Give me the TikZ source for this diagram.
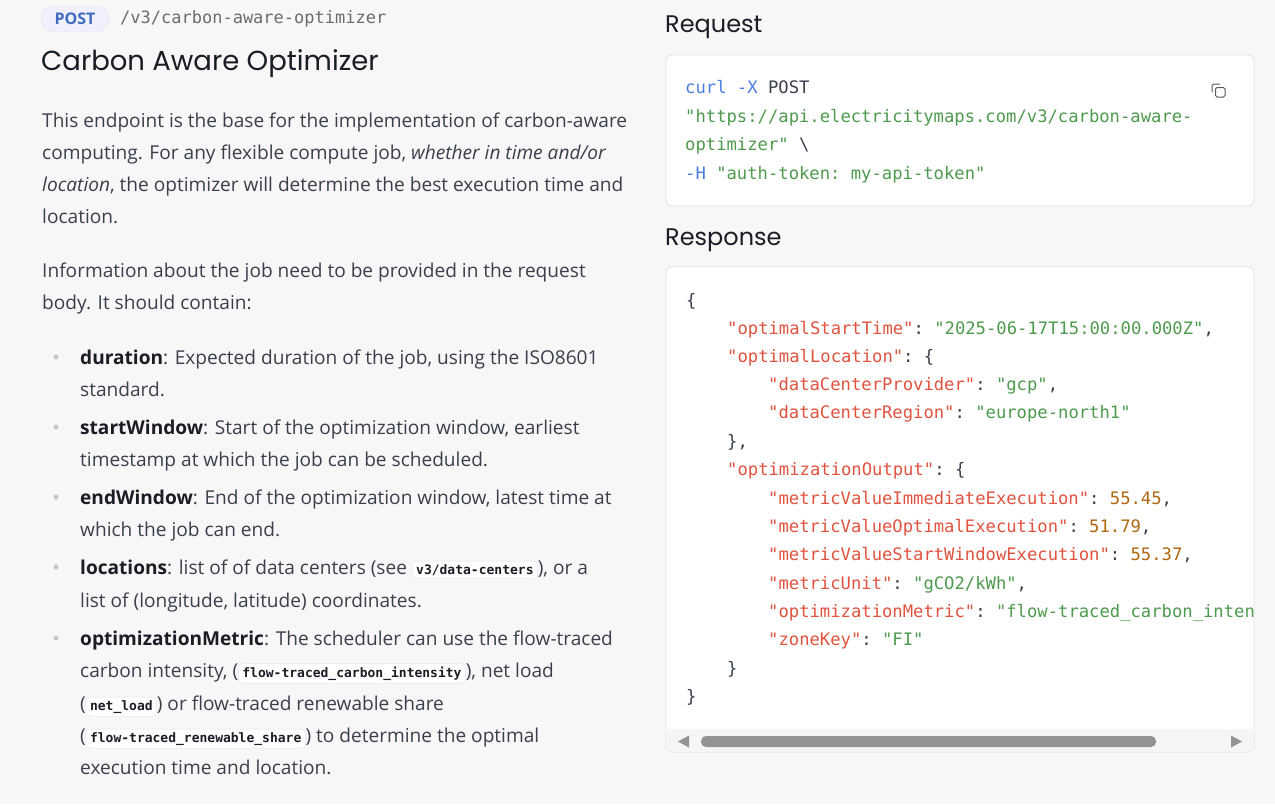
\documentclass[tikz,border=0pt]{standalone}
\usepackage{fontspec}
\setmainfont{Open Sans}
\newfontfamily\titlefont{Poppins}
\setmonofont{DejaVu Sans Mono}
\definecolor{bg}{HTML}{F7F7F8}
\definecolor{boxline}{HTML}{E2E2E5}
\definecolor{txt}{HTML}{3A3F4B}
\definecolor{dark}{HTML}{1A1D24}
\definecolor{cblue}{HTML}{4A7FE0}
\definecolor{cgreen}{HTML}{4E9A4E}
\definecolor{cred}{HTML}{E0533F}
\definecolor{cnum}{HTML}{B0670F}
\definecolor{cplain}{HTML}{3A3F4B}
\tikzset{
  body/.style={anchor=base west,inner sep=0pt,font=\fontsize{19.1}{22}\selectfont,text=txt},
  code/.style={anchor=base west,inner sep=0pt,font=\fontsize{17.2}{20}\ttfamily,text=cplain},
  pillsty/.style={draw=boxline,fill=white,rounded corners=4pt,inner xsep=4pt,inner ysep=3pt,font=\fontsize{13}{15}\ttfamily\bfseries,text=dark},
  bul/.style={circle,fill=gray!45,inner sep=0pt,minimum size=5pt},
  panel/.style={draw=boxline,fill=white,rounded corners=6pt,line width=0.8pt},
}
\newcommand\pill[1]{\tikz[baseline=(p.base)]\node[pillsty](p){#1};}
\newcommand\K[1]{\textcolor{cred}{#1}}
\newcommand\St[1]{\textcolor{cgreen}{#1}}
\newcommand\N[1]{\textcolor{cnum}{#1}}
\begin{document}
\begin{tikzpicture}[x=1pt,y=-1pt]
\fill[bg] (0,0) rectangle (1275,804);
\useasboundingbox (0,0) rectangle (1275,804);
% header
\node[draw=boxline,fill=blue!6,rounded corners=11pt,minimum width=67pt,minimum height=25pt,inner sep=0pt,font=\fontsize{16}{18}\selectfont\bfseries,text=cblue!85!black] (post) at (75,19) {POST};
\node[anchor=west,inner sep=0pt,font=\fontsize{17}{20}\ttfamily,text=gray!85!black] (path) at (120,19) {/v3/carbon-aware-optimizer};
\node[anchor=base west,inner sep=0pt,font=\fontsize{27.5}{30}\titlefont,text=dark] (title) at (41,70) {Carbon Aware Optimizer};
% paragraphs
\node[body] (l1) at (42,127) {This endpoint is the base for the implementation of carbon-aware};
\node[body] (l2) at (42,159) {computing. For any flexible compute job, \emph{whether in time and/or}};
\node[body] (l3) at (42,191) {\emph{location}, the optimizer will determine the best execution time and};
\node[body] (l4) at (42,223) {location.};
\node[body] (l5) at (42,277) {Information about the job need to be provided in the request};
\node[body] (l6) at (42,309) {body. It should contain:};
% bullets
\node[bul] (b1) at (56,357) {};
\node[body] (d1) at (80,364) {\textbf{\color{dark}duration}: Expected duration of the job, using the ISO8601};
\node[body] (d2) at (80,396) {standard.};
\node[bul] (b2) at (56,427) {};
\node[body] (s1) at (80,434) {\textbf{\color{dark}startWindow}: Start of the optimization window, earliest};
\node[body] (s2) at (80,466) {timestamp at which the job can be scheduled.};
\node[bul] (b3) at (56,497) {};
\node[body] (e1) at (80,504) {\textbf{\color{dark}endWindow}: End of the optimization window, latest time at};
\node[body] (e2) at (80,536) {which the job can end.};
\node[bul] (b4) at (56,567) {};
\node[body] (o1) at (80,574) {\textbf{\color{dark}locations}: list of of data centers (see \pill{v3/data-centers}), or a};
\node[body] (o2) at (80,607) {list of (longitude, latitude) coordinates.};
\node[bul] (b5) at (56,638) {};
\node[body] (m1) at (80,645) {\textbf{\color{dark}optimizationMetric}: The scheduler can use the flow-traced};
\node[body] (m2) at (80,677) {carbon intensity, (\pill{flow-traced\_carbon\_intensity}), net load};
\node[body] (m3) at (80,710) {(\pill{net\_load}) or flow-traced renewable share};
\node[body] (m4) at (80,742) {(\pill{flow-traced\_renewable\_share}) to determine the optimal};
\node[body] (m5) at (80,774) {execution time and location.};
% headings
\node[anchor=base west,inner sep=0pt,font=\fontsize{24}{28}\titlefont,text=dark] (req) at (665,32) {Request};
\node[anchor=base west,inner sep=0pt,font=\fontsize{24}{28}\titlefont,text=dark] (res) at (665,245) {Response};
% request panel
\draw[panel] (666,55) rectangle (1254,206);
\node[code] (c1) at (685,93) {\textcolor{cblue}{curl -X} POST};
\node[code] (c2) at (685,122) {\St{"https://api.electricitymaps.com/v3/carbon-aware-}};
\node[code] (c3) at (685,150) {\St{optimizer"} \textbackslash};
\node[code] (c4) at (685,179) {\textcolor{cblue}{-H} \St{"auth-token: my-api-token"}};
% copy icon
\draw[gray!70!black,line width=1pt,rounded corners=1.5pt] (1212,92) -- (1212,84) -- (1220,84);
\draw[gray!70!black,line width=1pt,rounded corners=1.5pt] (1215.5,87.5) rectangle (1225,97);
% response panel
\draw[panel] (666,267) rectangle (1254,752);
\fill[gray!8] (667,729) rectangle (1253,751);
\fill[gray!85] (701,736) [rounded corners=5pt] rectangle (1156,747);
\fill[gray!85] (678,741.5) -- (689,735.5) -- (689,747.5) -- cycle;
\fill[gray!85] (1242,741.5) -- (1231,735.5) -- (1231,747.5) -- cycle;
\begin{scope}
\clip (667,268) rectangle (1254,728);
\node[code] (r1) at (686,306) {\{};
\node[code] (r2) at (727,334) {\K{"optimalStartTime"}: \St{"2025-06-17T15:00:00.000Z"},};
\node[code] (r3) at (727,362) {\K{"optimalLocation"}: \{};
\node[code] (r4) at (768,390) {\K{"dataCenterProvider"}: \St{"gcp"},};
\node[code] (r5) at (768,418) {\K{"dataCenterRegion"}: \St{"europe-north1"}};
\node[code] (r6) at (727,447) {\},};
\node[code] (r7) at (727,475) {\K{"optimizationOutput"}: \{};
\node[code] (r8) at (768,504) {\K{"metricValueImmediateExecution"}: \N{55.45},};
\node[code] (r9) at (768,532) {\K{"metricValueOptimalExecution"}: \N{51.79},};
\node[code] (r10) at (768,560) {\K{"metricValueStartWindowExecution"}: \N{55.37},};
\node[code] (r11) at (768,589) {\K{"metricUnit"}: \St{"gCO2/kWh"},};
\node[code] (r12) at (768,617) {\K{"optimizationMetric"}: \St{"flow-traced\_carbon\_intensity"},};
\node[code] (r13) at (768,645) {\K{"zoneKey"}: \St{"FI"}};
\node[code] (r14) at (727,674) {\}};
\node[code] (r15) at (686,702) {\}};
\end{scope}
\end{tikzpicture}
\end{document}
